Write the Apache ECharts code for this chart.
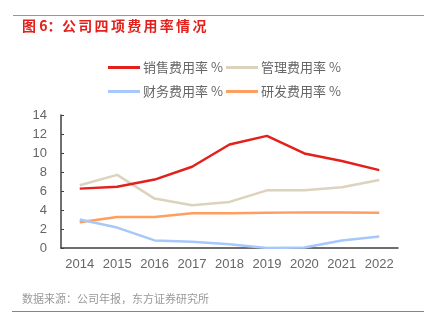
<!DOCTYPE html>
<html><head><meta charset="utf-8">
<script src="https://cdn.jsdelivr.net/npm/echarts@6/dist/echarts.min.js"></script>
<style>html,body{margin:0;padding:0;background:#fff}#c{width:433px;height:326px}</style>
</head><body><div id="c"></div>
<script>
const years = ['2014','2015','2016','2017','2018','2019','2020','2021','2022'];
const sales = [6.25, 6.45, 7.2, 8.55, 10.9, 11.8, 9.95, 9.15, 8.2];
const admin = [6.6, 7.7, 5.2, 4.5, 4.85, 6.07, 6.07, 6.4, 7.15];
const finance = [3.0, 2.15, 0.8, 0.65, 0.4, 0.0, 0.05, 0.8, 1.2];
const rnd = [2.7, 3.26, 3.26, 3.65, 3.65, 3.7, 3.75, 3.73, 3.7];
const names = ['销售费用率 %','管理费用率 %','财务费用率 %','研发费用率 %'];
const colors = ['#e3201b','#ddd3bd','#a6c8fb','#ff9e5e'];
const yTicks = {min:0, max:14, interval:2};
const titleHead = '图 6：';
const titleBody = '公司四项费用率情况';
const source = '数据来源：公司年报，东方证券研究所';
const font = '"Noto Sans CJK SC", "Liberation Sans", sans-serif';

const chart = echarts.init(document.getElementById('c'), null, {renderer:'canvas'});
const legendPos = [[103,56],[221,56],[103,80],[221,80]];
const legends = names.map((n,i)=>({
  data:[n], left:legendPos[i][0], top:legendPos[i][1], itemWidth:32, itemHeight:3, itemGap:0,
  icon:'rect', textStyle:{color:'#666', fontSize:13, fontFamily:font, padding:[0,0,0,-2]}
}));
const titleGraphics = [{type:'text', left:22, top:19, style:{text:titleHead, fill:'#e3201b', font:'bold 14px '+font}}];
titleBody.split('').forEach((ch,i)=>{
  titleGraphics.push({type:'text', left:62 + i*16.3, top:19, style:{text:ch, fill:'#e3201b', font:'bold 14px '+font}});
});
chart.setOption({
  animation:false,
  textStyle:{fontFamily:font},
  color:colors,
  legend: legends,
  grid:{left:61, right:35, top:115, bottom:78},
  xAxis:{type:'category', data:years, boundaryGap:true,
    axisLine:{lineStyle:{color:'#404040', width:1.5}},
    axisTick:{inside:true, length:4, lineStyle:{color:'#404040'}},
    axisLabel:{interval:0, color:'#666', fontSize:13, margin:10, fontFamily:'"Liberation Sans", sans-serif'}},
  yAxis:{type:'value', min:yTicks.min, max:yTicks.max, interval:yTicks.interval,
    splitLine:{show:false},
    axisLine:{show:true, lineStyle:{color:'#404040', width:1.5}},
    axisTick:{show:true, inside:true, length:3, lineStyle:{color:'#404040'}},
    axisLabel:{color:'#666', fontSize:13, margin:14, fontFamily:'"Liberation Sans", sans-serif'}},
  series:[sales, admin, finance, rnd].map((d,i)=>({
    name:names[i], type:'line', data:d, symbol:'none', smooth:false,
    lineStyle:{width:2.5, color:colors[i]}, itemStyle:{color:colors[i]}, z: 10-i
  })),
  graphic:[
    {type:'line', shape:{x1:13,y1:15.5,x2:424,y2:15.5}, style:{stroke:'#f07070', lineWidth:1}},
    ...titleGraphics,
    {type:'text', left:22, top:293, style:{text:source, fill:'#999', font:'11px '+font}},
    {type:'line', shape:{x1:12,y1:311.5,x2:424,y2:311.5}, style:{stroke:'#e06060', lineWidth:1}}
  ]
});
</script></body></html>
